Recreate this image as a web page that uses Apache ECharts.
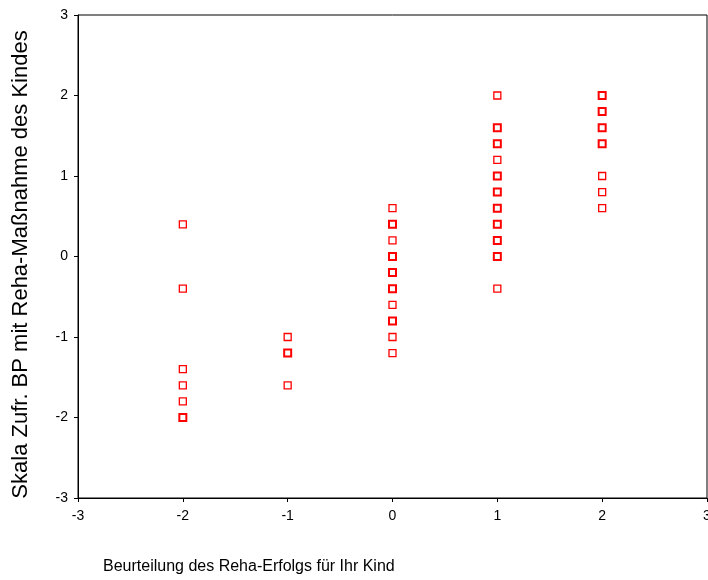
<!DOCTYPE html>
<html>
<head>
<meta charset="utf-8">
<script src="https://cdn.jsdelivr.net/npm/echarts@6/dist/echarts.min.js"></script>
<style>html,body{margin:0;padding:0;background:#fff}#c{width:708px;height:580px}</style>
</head>
<body>
<div id="c"></div>
<script>
// Ratings (x) and scale scores (y) per rating
const ratings = [-2, -1, 0, 1, 2];
const scoresM2 = [0.4, -0.4, -1.4, -1.6, -1.8, -2.0];
const scoresM1 = [-1.0, -1.2, -1.6];
const scores0 = [0.6, 0.4, 0.2, 0.0, -0.2, -0.4, -0.6, -0.8, -1.0, -1.2];
const scores1 = [2.0, 1.6, 1.4, 1.2, 1.0, 0.8, 0.6, 0.4, 0.2, 0.0, -0.4];
const scores2 = [2.0, 1.8, 1.6, 1.4, 1.0, 0.8, 0.6];
// points with several overlapping cases (drawn heavier)
const repeatedM2 = [-2.0];
const repeatedM1 = [-1.2];
const repeated0 = [0.4, 0.0, -0.2, -0.4, -0.8];
const repeated1 = [1.6, 1.4, 1.0, 0.8, 0.6, 0.4, 0.2, 0.0];
const repeated2 = [2.0, 1.8, 1.6, 1.4];
const tickValues = [-3, -2, -1, 0, 1, 2, 3];

const allScores = [scoresM2, scoresM1, scores0, scores1, scores2];
const allRepeated = [repeatedM2, repeatedM1, repeated0, repeated1, repeated2];

const single = [], multi = [];
ratings.forEach((r, i) => {
  allScores[i].forEach(s => {
    if (allRepeated[i].indexOf(s) >= 0) multi.push([r, s]);
    else single.push([r, s]);
  });
});

const chart = echarts.init(document.getElementById('c'), null, {renderer: 'canvas'});
const font = 'Liberation Sans, Arial, Helvetica, sans-serif';
const axisCommon = {
  type: 'value', min: -3, max: 3, interval: 1,
  axisLine: {show: true, onZero: false, lineStyle: {color: '#000', width: 1}},
  axisTick: {show: true, length: 4, lineStyle: {color: '#000'}},
  splitLine: {show: false},
  axisLabel: {color: '#000', fontFamily: font, fontSize: 14}
};
chart.setOption({
  animation: false,
  backgroundColor: '#fff',
  grid: {left: 78, top: 15, right: 1, bottom: 82, outerBoundsMode: 'none', containLabel: false,
         show: true, borderColor: '#000', borderWidth: 1, backgroundColor: 'transparent'},
  xAxis: Object.assign({}, axisCommon, {
    axisLabel: Object.assign({}, axisCommon.axisLabel, {margin: 11, formatter: v => tickValues.indexOf(v) >= 0 ? String(v) : ''})
  }),
  yAxis: Object.assign({}, axisCommon, {
    name: 'Skala Zufr. BP mit Reha-Maßnahme des Kindes',
    nameLocation: 'middle', nameRotate: 90, nameGap: 46,
    nameTextStyle: {color: '#000', fontFamily: font, fontSize: 22, padding: [0, 16, 0, 0]},
    axisLabel: Object.assign({}, axisCommon.axisLabel, {margin: 10})
  }),
  graphic: [{
    type: 'text', left: 103, top: 559,
    style: {text: 'Beurteilung des Reha-Erfolgs für Ihr Kind', fill: '#000', font: '16px ' + font}
  }],
  series: [
    {type: 'scatter', data: single, symbol: 'rect', symbolSize: 7,
     itemStyle: {color: '#fff', borderColor: '#ff0000', borderWidth: 1.3, opacity: 1}},
    {type: 'scatter', data: multi, symbol: 'rect', symbolSize: 7,
     itemStyle: {color: '#fff', borderColor: '#ff0000', borderWidth: 2, opacity: 1}}
  ]
});
</script>
</body>
</html>
